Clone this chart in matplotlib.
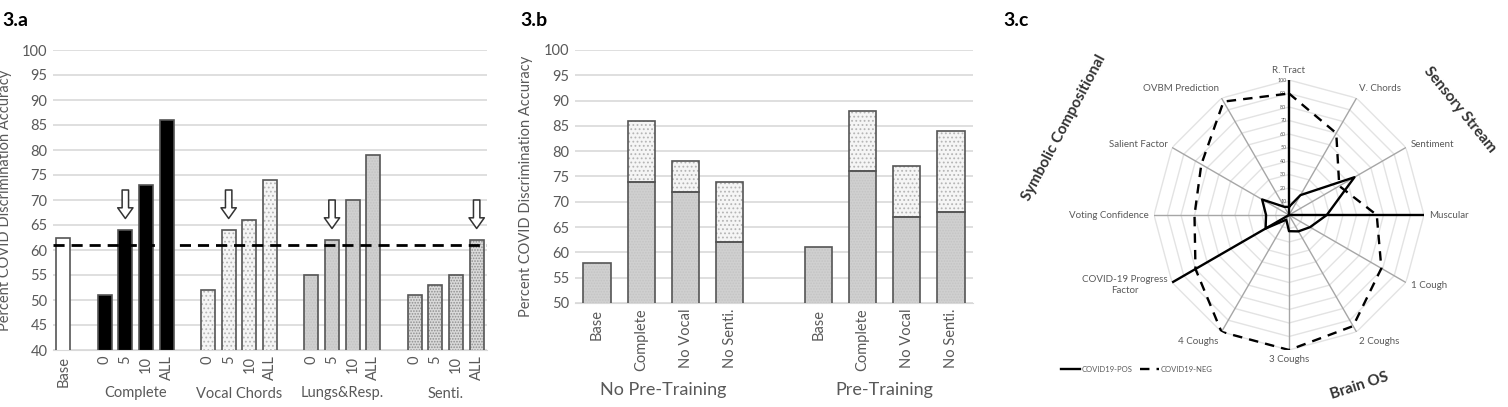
import numpy as np
import matplotlib.pyplot as plt
from matplotlib.lines import Line2D

plt.rcParams['font.family'] = ['Lato', 'DejaVu Sans']
plt.rcParams['hatch.linewidth'] = 0.8

W, H = 1508, 407

# ---- data: panel 3.a ----
a_groups = ['Complete', 'Vocal Chords', 'Lungs&Resp.', 'Senti.']
a_ticks = ['0', '5', '10', 'ALL']
a_base = 62.5
a_complete = [51, 64, 73, 86]
a_vocal = [52, 64, 66, 74]
a_lungs = [55, 62, 70, 79]
a_senti = [51, 53, 55, 62]
a_baseline = 61
a_arrow_idx = [1, 1, 1, 3]   # which bar in each group is marked

# ---- data: panel 3.b ----
b_sets = ['No Pre-Training', 'Pre-Training']
b_conds = ['Base', 'Complete', 'No Vocal', 'No Senti.']
b_nopre_low = [58, 74, 72, 62]
b_nopre_high = [58, 86, 78, 74]
b_pre_low = [61, 76, 67, 68]
b_pre_high = [61, 88, 77, 84]

# ---- data: panel 3.c ----
c_cats = ['R. Tract', 'V. Chords', 'Sentiment', 'Muscular', '1 Cough', '2 Coughs',
          '3 Coughs', '4 Coughs', 'COVID-19 Progress\nFactor', 'Voting Confidence',
          'Salient Factor', 'OVBM Prediction']
c_pos = [6, 17, 56, 28, 18, 14, 12, 4, 20, 17, 23, 7]
c_neg = [90, 70, 43, 65, 79, 95, 100, 100, 80, 70, 75, 97]
c_dividers = ['R. Tract', 'Muscular', 'COVID-19 Progress\nFactor']
c_groups = ['Symbolic Compositional', 'Sensory Stream', 'Brain OS']

TXT = '#595959'
GRID = '#d9d9d9'
EDGE = '#555555'


def fx(x):
    return x / W


def fy(y):
    return 1 - y / H


def hatched_bar(ax, x, h, bottom, width, fc, hatch, hc):
    ax.bar(x, h, width, bottom=bottom, color=fc, edgecolor=hc, hatch=hatch, linewidth=0, zorder=2)
    ax.bar(x, h, width, bottom=bottom, fill=False, edgecolor=EDGE, linewidth=1.2, zorder=3)


def style_bar_axes(ax, lo, hi):
    ax.set_ylim(lo, hi)
    ax.set_yticks(range(lo, hi + 1, 5))
    ax.yaxis.grid(True, color=GRID, linewidth=1.2)
    ax.set_axisbelow(True)
    for s in ax.spines.values():
        s.set_visible(False)
    ax.spines['bottom'].set_visible(True)
    ax.spines['bottom'].set_color(GRID)
    ax.tick_params(length=0, labelsize=10.5, colors=TXT, pad=4)
    ax.tick_params(axis='x', rotation=90)


fig = plt.figure(figsize=(W / 100, H / 100), dpi=100)

# ================= 3.a =================
ax1 = fig.add_axes([fx(53), fy(350), fx(487) - fx(53), fy(50) - fy(350)])
style_bar_axes(ax1, 40, 100)
bw = 0.68
hatched_bar(ax1, 0, a_base, 0, bw, 'white', None, 'white')
styles = [('black', None, 'black'), ('#f5f5f5', '....', '#b5b5b5'),
          ('#d0d0d0', '......', '#c4c4c4'), ('#dadada', '......', '#8f8f8f')]
ticks_x, ticks_l = [0], ['Base']
for g, vals in enumerate([a_complete, a_vocal, a_lungs, a_senti]):
    fc, hatch, hc = styles[g]
    xs = [2 + 5 * g + i for i in range(len(vals))]
    for x, v in zip(xs, vals):
        hatched_bar(ax1, x, v, 0, bw, fc, hatch, hc)
    ticks_x += xs
    ticks_l += a_ticks
    ax1.text(np.mean(xs), -0.145, a_groups[g], transform=ax1.get_xaxis_transform(),
             ha='center', va='center', fontsize=10.5, color=TXT)
    k = a_arrow_idx[g]
    ax1.annotate('', xy=(xs[k], vals[k] + 2.3), xytext=(xs[k], vals[k] + 8),
                 arrowprops=dict(arrowstyle='simple,head_length=0.7,head_width=1.0,tail_width=0.42',
                                 fc='white', ec='#333333', lw=1.1, mutation_scale=11,
                                 shrinkA=0, shrinkB=0), zorder=5)
ax1.axhline(a_baseline, color='black', linestyle=(0, (4, 2.5)), linewidth=2, zorder=4)
ax1.set_xticks(ticks_x)
ax1.set_xticklabels(ticks_l)
ax1.set_xlim(-0.5, 20.5)
fig.text(fx(5), fy(200), 'Percent COVID Discrimination Accuracy', rotation=90,
         ha='center', va='center', fontsize=10.5, color=TXT)
fig.text(fx(2), fy(20), '3.a', fontsize=14, fontweight='bold', ha='left', va='center')

# ================= 3.b =================
ax2 = fig.add_axes([fx(575), fy(303), fx(973) - fx(575), fy(50) - fy(303)])
style_bar_axes(ax2, 50, 100)
bw = 0.62
bx, bl = [], []
for s, (low, high) in enumerate([(b_nopre_low, b_nopre_high), (b_pre_low, b_pre_high)]):
    xs = [5 * s + i for i in range(len(b_conds))]
    for x, lo, hi in zip(xs, low, high):
        hatched_bar(ax2, x, lo, 0, bw, '#d0d0d0', '......', '#c4c4c4')
        if hi > lo:
            hatched_bar(ax2, x, hi - lo, lo, bw, '#f5f5f5', '....', '#b5b5b5')
    bx += xs
    bl += b_conds
    ax2.text(np.mean(xs), -0.345, b_sets[s], transform=ax2.get_xaxis_transform(),
             ha='center', va='center', fontsize=13, color=TXT)
ax2.set_xticks(bx)
ax2.set_xticklabels(bl)
ax2.set_xlim(-0.5, 8.5)
fig.text(fx(526), fy(186), 'Percent COVID Discrimination Accuracy', rotation=90,
         ha='center', va='center', fontsize=10.5, color=TXT)
fig.text(fx(520), fy(20), '3.b', fontsize=14, fontweight='bold', ha='left', va='center')

# ================= 3.c =================
R = 135
ax3 = fig.add_axes([fx(1289 - R), fy(215 + R), fx(2 * R), (2 * R) / H], projection='polar')
ax3.set_theta_offset(np.pi / 2)
ax3.set_theta_direction(-1)
ax3.set_ylim(0, 100)
ax3.grid(False)
ax3.set_xticks([])
ax3.set_yticks([])
ax3.spines['polar'].set_visible(False)
ax3.patch.set_alpha(0)

ang = np.linspace(0, 2 * np.pi, len(c_cats), endpoint=False)
ring = np.append(ang, ang[0])
for r in range(10, 101, 10):
    ax3.plot(ring, [r] * len(ring), color='#e3e3e3', lw=1.0, zorder=1)
    ax3.annotate(str(r), (0, r), xytext=(-2, 0), textcoords='offset points',
                 ha='right', va='center', fontsize=3.8, color=TXT)
for a, c in zip(ang, c_cats):
    if c in c_dividers:
        ax3.plot([a, a], [0, 100], color='black', lw=1.7, zorder=4)
    else:
        ax3.plot([a, a], [0, 100], color='#a6a6a6', lw=1.0, zorder=2)
    sa, ca = np.sin(a), np.cos(a)
    ha = 'left' if sa > 0.1 else ('right' if sa < -0.1 else 'center')
    va = 'bottom' if ca > 0.6 else ('top' if ca < -0.6 else 'center')
    ax3.text(a, 104, c, ha=ha, va=va, fontsize=7, color=TXT, clip_on=False,
             multialignment='center')

ax3.plot(ring, c_pos + c_pos[:1], color='black', lw=1.7, zorder=5)
ax3.plot(ring, c_neg + c_neg[:1], color='black', lw=1.7, linestyle=(0, (4, 3)), zorder=5)

fig.text(fx(1064), fy(128), c_groups[0], rotation=62, ha='center', va='center',
         fontsize=11, fontweight='bold', color='#333333')
fig.text(fx(1460), fy(110), c_groups[1], rotation=-51, ha='center', va='center',
         fontsize=11, fontweight='bold', color='#333333')
fig.text(fx(1359), fy(386), c_groups[2], rotation=18, ha='center', va='center',
         fontsize=11, fontweight='bold', color='#333333')
fig.text(fx(1003), fy(20), '3.c', fontsize=14, fontweight='bold', ha='left', va='center')

handles = [Line2D([], [], color='black', lw=1.7),
           Line2D([], [], color='black', lw=1.7, linestyle=(0, (4, 3)))]
fig.legend(handles, ['COVID19-POS', 'COVID19-NEG'], loc='center',
           bbox_to_anchor=(fx(1137), fy(369)), ncol=2, frameon=False, fontsize=5.5,
           handlelength=2.5, handletextpad=0.2, columnspacing=1.0, labelcolor=TXT)

fig.savefig('out.png', dpi=100)
